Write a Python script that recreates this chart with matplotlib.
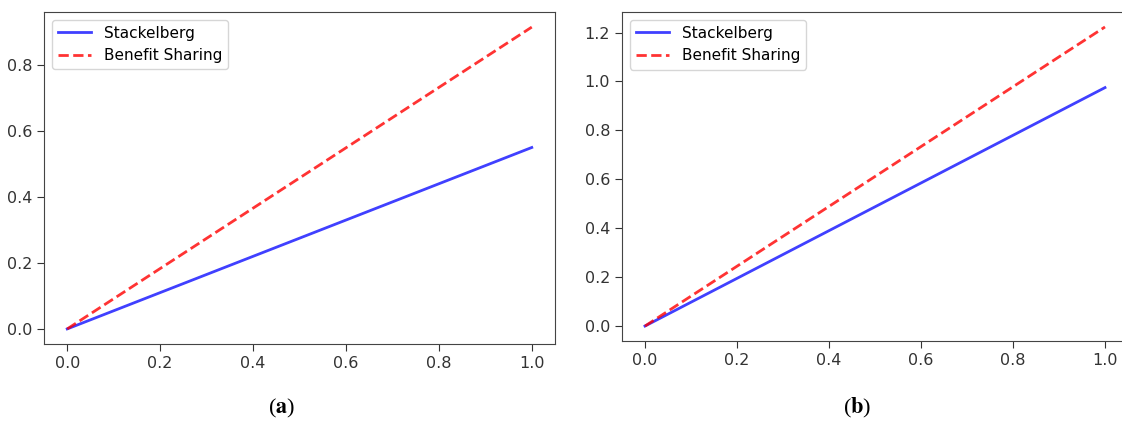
import matplotlib
matplotlib.use("Agg")
import matplotlib.pyplot as plt

# Data
x_vals = [0.0, 1.0]
a_stackelberg = [0.0, 0.55]
a_benefit = [0.0, 0.915]
b_stackelberg = [0.0, 0.975]
b_benefit = [0.0, 1.223]
labels = ["Stackelberg", "Benefit Sharing"]
captions = ["a", "b"]

plt.rcParams['font.family'] = ['DejaVu Sans']
plt.rcParams['mathtext.fontset'] = 'stix'

fig = plt.figure(figsize=(11.22, 4.24), dpi=100)
ax_a = fig.add_axes([44 / 1122, (424 - 344) / 424, 511 / 1122, 332 / 424])
ax_b = fig.add_axes([622 / 1122, (424 - 341) / 424, 506 / 1122, 329 / 424])

for ax, s, b in [(ax_a, a_stackelberg, a_benefit), (ax_b, b_stackelberg, b_benefit)]:
    ax.plot(x_vals, s, color='blue', alpha=0.75, lw=2, label=labels[0])
    ax.plot(x_vals, b, color='red', alpha=0.8, lw=2, ls='--', label=labels[1])
    ax.set_xticks([0.0, 0.2, 0.4, 0.6, 0.8, 1.0])
    ax.tick_params(labelsize=11.5, colors='#333333', length=5)
    for sp in ax.spines.values():
        sp.set_color('#444444')
    ax.legend(loc='upper left', fontsize=11, handlelength=2.2)

ax_a.set_yticks([0.0, 0.2, 0.4, 0.6, 0.8])
ax_b.set_yticks([0.0, 0.2, 0.4, 0.6, 0.8, 1.0, 1.2])

fig.text(282 / 1122, 1 - 408 / 424, r'($\mathbf{%s}$)' % captions[0], ha='center', va='center',
         fontsize=16, family='Liberation Serif')
fig.text(857 / 1122, 1 - 408 / 424, r'($\mathbf{%s}$)' % captions[1], ha='center', va='center',
         fontsize=16, family='Liberation Serif')

fig.savefig("out.png", dpi=100)
